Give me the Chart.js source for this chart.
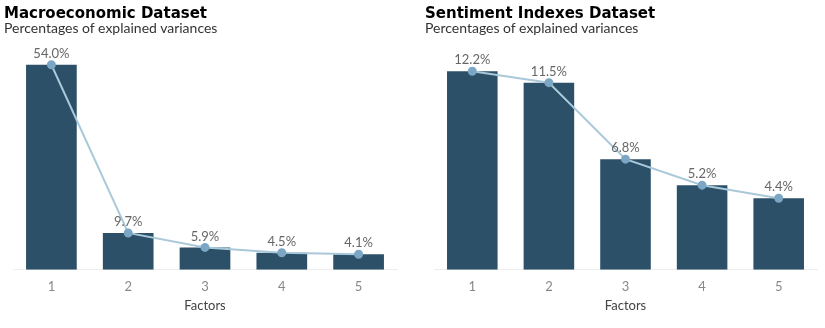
<!DOCTYPE html>
<html lang="en">

<head>
  <meta charset="UTF-8">
  <title>Explained variances</title>
  <script src="https://cdn.jsdelivr.net/npm/chart.js"></script>
  <style>
    body {
      margin: 0;
      width: 825px;
      height: 328px;
      position: relative;
      background: #fff;
      overflow: hidden;
    }
    .panel {
      position: absolute;
      top: 0;
      height: 328px;
    }
    .panel h2 {
      position: absolute;
      margin: 0;
      top: 4px;
      font: bold 15px "DejaVu Sans", sans-serif;
      color: #000;
      white-space: nowrap;
    }
    .panel p {
      position: absolute;
      margin: 0;
      top: 19px;
      font: 14px Lato, sans-serif;
      color: #333;
      white-space: nowrap;
    }
  </style>
</head>

<body>
  <div class="panel" style="left:0;width:410px">
    <canvas id="macroChart" width="410" height="328"></canvas>
    <h2 style="left:4px">Macroeconomic Dataset</h2>
    <p style="left:4px">Percentages of explained variances</p>
  </div>
  <div class="panel" style="left:410px;width:415px">
    <canvas id="sentChart" width="415" height="328"></canvas>
    <h2 style="left:15px">Sentiment Indexes Dataset</h2>
    <p style="left:15px">Percentages of explained variances</p>
  </div>

  <script>
    const factors = ['1', '2', '3', '4', '5'];
    const macroVariance = [54.0, 9.7, 5.9, 4.5, 4.1];
    const sentimentVariance = [12.2, 11.5, 6.8, 5.2, 4.4];

    const barColor = '#2b5067';
    const lineColor = '#a9c9da';
    const pointColor = '#7ba6c4';
    const textColor = '#666';
    const fontFamily = 'Lato, sans-serif';

    // writes the value above each point of the line
    const pointLabels = {
      id: 'pointLabels',
      afterDatasetsDraw(chart) {
        const c = chart.ctx;
        const meta = chart.getDatasetMeta(1);
        const values = chart.data.datasets[1].data;
        c.save();
        c.font = '13px ' + fontFamily;
        c.fillStyle = textColor;
        c.textAlign = 'center';
        c.textBaseline = 'middle';
        meta.data.forEach((pt, i) => {
          c.fillText(values[i].toFixed(1) + '%', pt.x, pt.y - 11);
        });
        c.restore();
      }
    };

    function makeChart(id, values, yMax, padLeft, padRight) {
      return new Chart(document.getElementById(id), {
        type: 'bar',
        data: {
          labels: factors,
          datasets: [
            {
              type: 'bar',
              data: values,
              backgroundColor: barColor,
              barPercentage: 0.66,
              categoryPercentage: 1,
              order: 1
            },
            {
              type: 'line',
              data: values,
              borderColor: lineColor,
              borderWidth: 2,
              pointRadius: 3.5,
              pointBackgroundColor: pointColor,
              pointBorderColor: pointColor,
              tension: 0,
              order: 0
            }
          ]
        },
        options: {
          responsive: false,
          animation: false,
          layout: {
            padding: { left: padLeft, right: padRight, top: 42, bottom: 14 }
          },
          plugins: {
            legend: { display: false },
            tooltip: { enabled: false }
          },
          scales: {
            x: {
              grid: { display: false, drawTicks: false },
              border: { display: true, color: '#eeeeee', width: 1 },
              ticks: {
                color: '#888',
                padding: 9,
                font: { family: fontFamily, size: 13 }
              },
              title: {
                display: true,
                text: 'Factors',
                color: '#444',
                padding: { top: -5, bottom: 0 },
                font: { family: fontFamily, size: 13 }
              }
            },
            y: {
              display: false,
              min: 0,
              max: yMax
            }
          }
        },
        plugins: [pointLabels]
      });
    }

    makeChart('macroChart', macroVariance, 60, 13, 13);
    makeChart('sentChart', sentimentVariance, 14, 24, 8);
  </script>
</body>

</html>
